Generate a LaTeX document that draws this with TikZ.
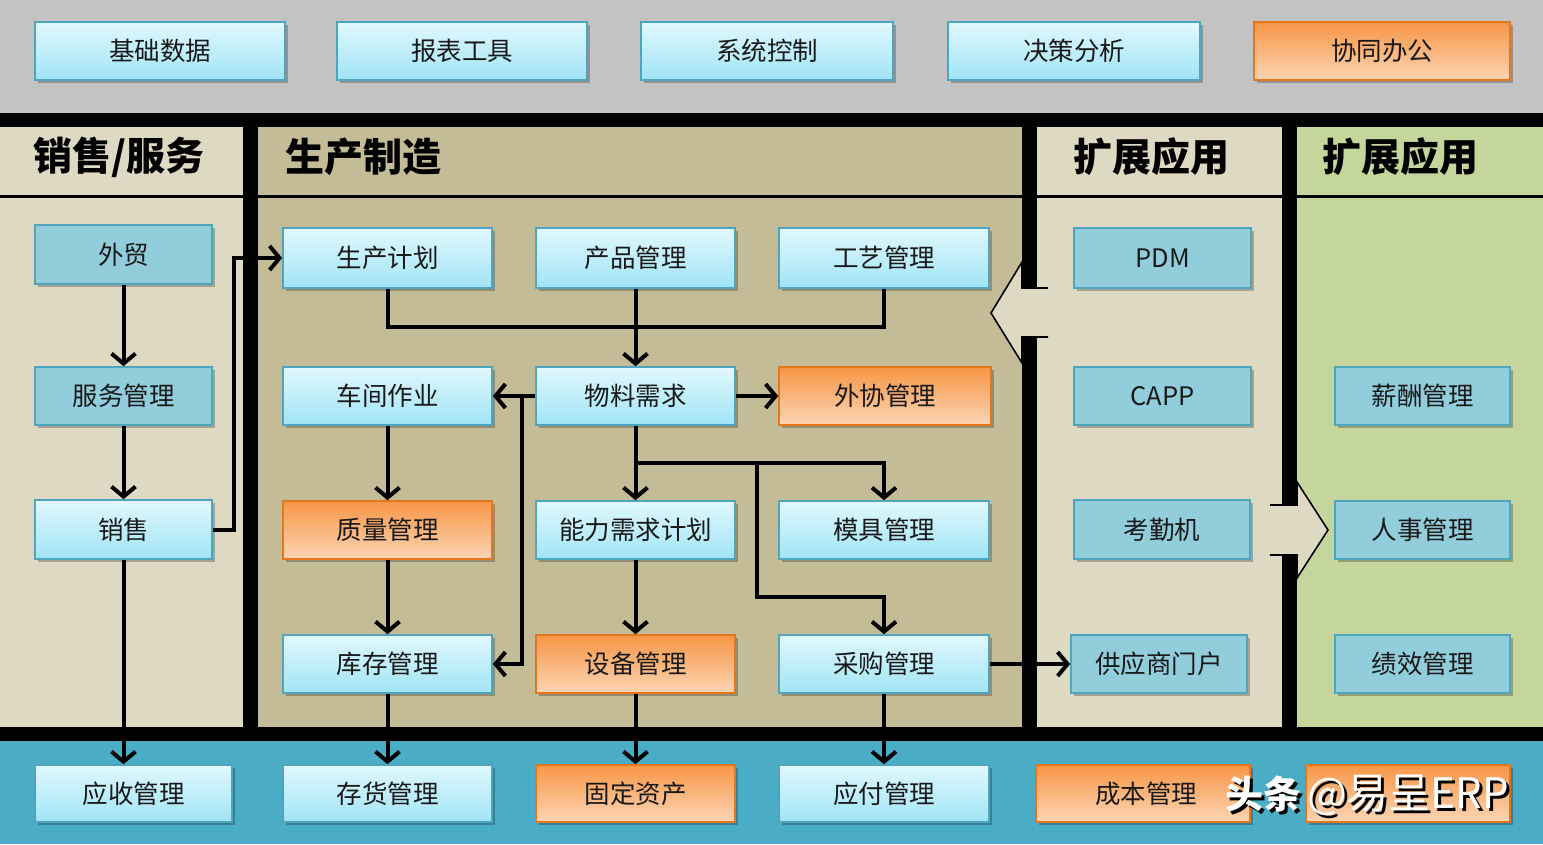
\documentclass[tikz,border=0pt]{standalone}
\usepackage{fontspec}
\setmainfont{Noto Sans CJK SC}
\usetikzlibrary{arrows.meta,shadows}
\definecolor{topgray}{RGB}{195,195,195}
\definecolor{lbeige}{RGB}{222,217,195}
\definecolor{khaki}{RGB}{196,188,150}
\definecolor{lgreen}{RGB}{196,214,155}
\definecolor{teal}{RGB}{75,172,198}
\definecolor{boxline}{RGB}{80,165,190}
\definecolor{cyantop}{RGB}{225,248,253}
\definecolor{cyanbot}{RGB}{160,228,246}
\definecolor{solidblue}{RGB}{146,205,220}
\definecolor{orgtop}{RGB}{247,150,70}
\definecolor{orgbot}{RGB}{252,213,180}
\definecolor{orgline}{RGB}{228,118,30}
\definecolor{txt}{RGB}{25,25,25}
\begin{document}
\begin{tikzpicture}[x=1pt,y=-1pt,
  base/.style={line width=1.6pt, inner sep=0pt, text=txt,
    font=\fontsize{25.5}{29}\selectfont,
    drop shadow={shadow xshift=3pt,shadow yshift=-3pt,opacity=0.25,fill=black}},
  cyanbox/.style={base, draw=boxline, top color=cyantop, bottom color=cyanbot},
  bluebox/.style={base, draw=boxline, fill=solidblue},
  orgbox/.style={base, draw=orgline, top color=orgtop, bottom color=orgbot},
  hdr/.style={anchor=west, font=\fontsize{39}{43}\selectfont\bfseries, text=black, inner sep=0pt},
  conn/.style={line width=4pt, line join=miter, draw=black},
  arr/.style={conn, -{Straight Barb[length=10pt,width=24pt]}},
  bigarr/.style={draw=black, line width=1.6pt, line join=miter}
]
\useasboundingbox (0,0) rectangle (1543,844);
% backgrounds
\fill[black] (0,0) rectangle (1543,844);
\fill[topgray] (0,0) rectangle (1543,113);
\fill[lbeige] (0,127) rectangle (243,727);
\fill[khaki] (258,127) rectangle (1022,727);
\fill[lbeige] (1037,127) rectangle (1282,727);
\fill[lgreen] (1297,127) rectangle (1543,727);
\fill[teal] (0,741) rectangle (1543,844);
% header lines
\draw[line width=3pt] (0,196) -- (243,196);
\draw[line width=3pt] (258,196) -- (1022,196);
\draw[line width=3pt] (1037,196) -- (1282,196);
\draw[line width=3pt] (1297,196) -- (1543,196);
% headers
\node[hdr] (h1) at (33,157) {销售/服务};
\node[hdr] (h2) at (285,157) {生产制造};
\node[hdr] (h3) at (1073,157) {扩展应用};
\node[hdr] (h4) at (1322,157) {扩展应用};
% big hollow arrows (gaps in separators)
\fill[khaki] (1022,288) rectangle (1037,337);
\fill[lbeige] (1048,288) -- (1022,288) -- (1022,262) -- (991,313) -- (1022,363) -- (1022,337) -- (1048,337) -- cycle;
\draw[bigarr] (1048,288) -- (1022,288) -- (1022,262) -- (991,313) -- (1022,363) -- (1022,337) -- (1048,337);
\fill[lbeige] (1270,505) -- (1297,505) -- (1297,482) -- (1328,530) -- (1297,578) -- (1297,555) -- (1270,555) -- cycle;
\draw[bigarr] (1270,505) -- (1297,505) -- (1297,482) -- (1328,530) -- (1297,578) -- (1297,555) -- (1270,555);
% top row
\node[cyanbox, minimum width=250pt, minimum height=58pt] (jcsj) at (160,51) {基础数据};
\node[cyanbox, minimum width=250pt, minimum height=58pt] (bbgj) at (462,51) {报表工具};
\node[cyanbox, minimum width=252pt, minimum height=58pt] (xtkz) at (767,51) {系统控制};
\node[cyanbox, minimum width=252pt, minimum height=58pt] (jcfx) at (1074,51) {决策分析};
\node[orgbox, minimum width=256pt, minimum height=58pt] (xtbg) at (1382,51) {协同办公};
% left column
\node[bluebox, minimum width=177pt, minimum height=59pt] (wm) at (123.5,254.5) {外贸};
\node[bluebox, minimum width=177pt, minimum height=58pt] (fwgl) at (123.5,396) {服务管理};
\node[cyanbox, minimum width=177pt, minimum height=59pt] (xs) at (123.5,529.5) {销售};
% production column
\node[cyanbox, minimum width=209pt, minimum height=60pt] (scjh) at (387.5,258) {生产计划};
\node[cyanbox, minimum width=199pt, minimum height=60pt] (cpgl) at (635.5,258) {产品管理};
\node[cyanbox, minimum width=210pt, minimum height=60pt] (gygl) at (884,258) {工艺管理};
\node[cyanbox, minimum width=209pt, minimum height=58pt] (cjzy) at (387.5,396) {车间作业};
\node[cyanbox, minimum width=199pt, minimum height=58pt] (wlxq) at (635.5,396) {物料需求};
\node[orgbox, minimum width=212pt, minimum height=58pt] (wxgl) at (885,396) {外协管理};
\node[orgbox, minimum width=209pt, minimum height=58pt] (zlgl) at (387.5,530) {质量管理};
\node[cyanbox, minimum width=199pt, minimum height=58pt] (nlxq) at (635.5,530) {能力需求计划};
\node[cyanbox, minimum width=210pt, minimum height=58pt] (mjgl) at (884,530) {模具管理};
\node[cyanbox, minimum width=209pt, minimum height=58pt] (kcgl) at (387.5,664) {库存管理};
\node[orgbox, minimum width=199pt, minimum height=58pt] (sbgl) at (635.5,664) {设备管理};
\node[cyanbox, minimum width=210pt, minimum height=58pt] (cggl) at (884,664) {采购管理};
% extension column
\node[bluebox, minimum width=177pt, minimum height=60pt] (pdm) at (1162.5,258) {PDM};
\node[bluebox, minimum width=177pt, minimum height=58pt] (capp) at (1162.5,396) {CAPP};
\node[bluebox, minimum width=176pt, minimum height=59pt] (kqj) at (1162,529.5) {考勤机};
\node[bluebox, minimum width=176pt, minimum height=58pt] (gysmh) at (1159,664) {供应商门户};
% HR column
\node[bluebox, minimum width=175pt, minimum height=58pt] (xcgl) at (1422.5,396) {薪酬管理};
\node[bluebox, minimum width=175pt, minimum height=58pt] (rsgl) at (1422.5,530) {人事管理};
\node[bluebox, minimum width=175pt, minimum height=58pt] (jxgl) at (1422.5,664) {绩效管理};
% bottom row
\node[cyanbox, minimum width=197pt, minimum height=57pt] (ysgl) at (133.5,793.5) {应收管理};
\node[cyanbox, minimum width=209pt, minimum height=57pt] (chgl) at (387.5,793.5) {存货管理};
\node[orgbox, minimum width=199pt, minimum height=57pt] (gdzc) at (635.5,793.5) {固定资产};
\node[cyanbox, minimum width=210pt, minimum height=57pt] (yfgl) at (884,793.5) {应付管理};
\node[orgbox, minimum width=214pt, minimum height=57pt, text width=204pt, align=right] (cbgl) at (1143,793.5) {成本管理\hspace*{48pt}};
\node[orgbox, minimum width=204pt, minimum height=57pt] (last) at (1408,793.5) {};
% coordinates for junctions
\coordinate (bus1) at (635.5,327);
\coordinate (b2) at (522,396);
\coordinate (b3) at (635.5,463);
\coordinate (b4) at (757,463);
\coordinate (b5) at (757,597);
% connectors
\draw[arr] (wm.south) -- (fwgl.north);
\draw[arr] (fwgl.south) -- (xs.north);
\draw[arr] (xs.east) -- ++(21,0) |- (scjh.west);
\draw[arr] (xs.south) -- (xs.south |- ysgl.north);
\draw[conn] (scjh.south) |- (bus1) -| (gygl.south);
\draw[arr] (cpgl.south) -- (wlxq.north);
\draw[arr] (wlxq.west) -- (cjzy.east);
\draw[arr] (b2) |- (kcgl.east);
\draw[arr] (wlxq.east) -- (wxgl.west);
\draw[arr] (wlxq.south) -- (nlxq.north);
\draw[arr] (b3) -| (mjgl.north);
\draw[arr] (b4) -- (b5) -| (cggl.north);
\draw[arr] (cjzy.south) -- (zlgl.north);
\draw[arr] (zlgl.south) -- (kcgl.north);
\draw[arr] (nlxq.south) -- (sbgl.north);
\draw[arr] (cggl.east) -- (gysmh.west);
\draw[arr] (kcgl.south) -- (chgl.north);
\draw[arr] (sbgl.south) -- (gdzc.north);
\draw[arr] (cggl.south) -- (yfgl.north);
% watermark
\node[anchor=west, inner sep=0pt, text=black, font=\fontsize{38}{42}\selectfont] (wmk2) at (1228,798) {\textbf{头条}\hspace{6pt}\fontsize{42}{46}\selectfont @易呈ERP};
\node[anchor=west, inner sep=0pt, text=white, font=\fontsize{38}{42}\selectfont] (wmk) at (1225,795) {\textbf{头条}\hspace{6pt}\fontsize{42}{46}\selectfont @易呈ERP};
\end{tikzpicture}
\end{document}
